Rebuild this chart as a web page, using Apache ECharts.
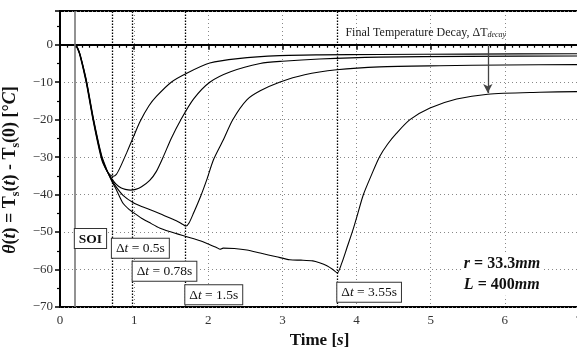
<!DOCTYPE html>
<html>
<head>
<meta charset="utf-8">
<script src="https://cdn.jsdelivr.net/npm/echarts@6/dist/echarts.min.js"></script>
<style>
  html, body { margin: 0; padding: 0; background: #fff; }
  #main { width: 577px; height: 353px; }
</style>
</head>
<body>
<div id="main"></div>
<script>
// time [s] and theta [°C], one pair of arrays per run
const t1 = [0, 0.2, 0.22, 0.26, 0.3, 0.36, 0.45, 0.56, 0.63, 0.68, 0.72, 0.76, 0.81, 0.9, 0.99, 1.08, 1.2, 1.3, 1.5, 1.71, 2.02, 2.4, 2.96, 3.5, 4.3, 5.5, 7]
const y1 = [0, 0, -0.4, -2.3, -5.4, -10.8, -20.6, -30.5, -33.6, -34.8, -35.1, -34.6, -32.8, -28.8, -24.6, -20.5, -16.3, -13.8, -10, -7.6, -4.9, -3.7, -2.9, -2.7, -2.6, -2.5, -2.4]

const t2 = [0, 0.2, 0.22, 0.26, 0.3, 0.36, 0.45, 0.56, 0.63, 0.7, 0.76, 0.82, 0.88, 0.95, 1.02, 1.1, 1.21, 1.3, 1.4, 1.5, 1.63, 1.8, 2.02, 2.3, 2.7, 3.0, 3.5, 4.3, 5.5, 7]
const y2 = [0, 0, -0.3, -2.1, -5.1, -10.4, -20.2, -30.1, -33.6, -35.8, -37.3, -38.2, -38.6, -38.8, -38.6, -37.9, -36.2, -33.8, -29.6, -25, -20, -14.5, -10, -7.2, -5, -4.4, -3.8, -3.3, -3.1, -3.0]

const t3 = [0, 0.2, 0.22, 0.26, 0.3, 0.36, 0.45, 0.56, 0.63, 0.7, 0.76, 0.85, 0.99, 1.1, 1.2, 1.35, 1.5, 1.6, 1.66, 1.7, 1.74, 1.8, 1.9, 1.98, 2.07, 2.2, 2.33, 2.52, 2.7, 2.96, 3.3, 3.73, 4.31, 5.12, 6, 7]
const y3 = [0, 0, -0.3, -2.0, -4.9, -10.1, -19.9, -29.8, -33.5, -36.2, -38, -40.2, -42.2, -43.2, -43.9, -45.1, -46.4, -47.3, -48, -48.4, -47.6, -45, -40.3, -36, -30.7, -25.5, -20, -14.7, -12.3, -10, -8, -6.7, -5.9, -5.6, -5.4, -5.3]

const t4 = [0, 0.2, 0.22, 0.26, 0.3, 0.36, 0.45, 0.56, 0.63, 0.7, 0.76, 0.85, 0.94, 0.99, 1.1, 1.2, 1.35, 1.5, 1.7, 1.9, 2.0, 2.11, 2.16, 2.2, 2.35, 2.52, 2.7, 2.92, 3.1, 3.25, 3.41, 3.5, 3.6, 3.68, 3.74, 3.8, 3.87, 3.95, 4.02, 4.09, 4.2, 4.31, 4.42, 4.54, 4.72, 4.99, 5.35, 5.77, 6.47, 7]
const y4 = [0, 0, -0.2, -1.9, -4.8, -9.9, -19.6, -29.5, -33.3, -36.5, -38.7, -42.3, -44.1, -44.8, -46.3, -47.4, -49, -50, -51.2, -52.4, -53.2, -54.1, -54.6, -54.3, -54.4, -54.8, -55.6, -56.6, -57.4, -57.5, -57.7, -58.2, -59, -60, -60.9, -58.3, -54.2, -49.5, -44.8, -40.1, -34.8, -29.9, -26.5, -23.6, -20, -16.9, -14.5, -13.2, -12.7, -12.5]

// SOI and the end of each exposure
const soiTime = 0.2
const stopTimes = [0.7, 0.98, 1.69, 3.74]

const boxLabels = [
  { text: '{b|SOI}', at: [0.2, -49.2] },
  { text: 'Δ{i|t} = 0.5s', at: [0.7, -51.8] },
  { text: 'Δ{i|t} = 0.78s', at: [0.98, -57.9] },
  { text: 'Δ{i|t} = 1.5s', at: [1.69, -64.2] },
  { text: 'Δ{i|t} = 3.55s', at: [3.74, -63.5] }
]

const serif = '"Liberation Serif", "DejaVu Serif", serif'
const zip = (t, y) => t.map((v, i) => [v, y[i]])

const chart = echarts.init(document.getElementById('main'))

chart.setOption({
  animation: false,
  grid: {
    left: 60, right: -2, top: 11, bottom: 46,
    outerBoundsMode: 'none', containLabel: false,
    show: true, borderColor: '#000', borderWidth: 2
  },
  xAxis: {
    type: 'value', min: 0, max: 7, interval: 1,
    name: 'Time [{bi|s}]', nameLocation: 'middle', nameGap: 25,
    nameTextStyle: {
      fontFamily: serif, fontSize: 17, fontWeight: 'bold', color: '#111',
      rich: { bi: { fontFamily: serif, fontSize: 17, fontWeight: 'bold', fontStyle: 'italic', color: '#111' } }
    },
    axisLine: { lineStyle: { color: '#000', width: 2 } },
    axisTick: { length: 5, lineStyle: { color: '#000', width: 1.5 } },
    minorTick: { show: true, splitNumber: 10, length: 3, lineStyle: { color: '#000', width: 1.2 } },
    axisLabel: { fontFamily: serif, fontSize: 13, color: '#333', margin: 7 },
    splitLine: { lineStyle: { color: '#888', type: [1, 3], width: 1 } }
  },
  yAxis: {
    type: 'value', min: -70, max: 9, interval: 10,
    name: '{bi|θ}({bi|t}) = T{sub|s}({bi|t}) - T{sub|s}(0) [°{bi|C}]',
    nameLocation: 'middle', nameGap: 31,
    nameTextStyle: {
      fontFamily: serif, fontSize: 18, fontWeight: 'bold', color: '#111', lineHeight: 22,
      padding: [0, 22, 0, 0],
      rich: {
        bi: { fontFamily: serif, fontSize: 18, fontWeight: 'bold', fontStyle: 'italic', color: '#111', lineHeight: 22 },
        sub: { fontFamily: serif, fontSize: 12, fontWeight: 'bold', color: '#111', lineHeight: 13, verticalAlign: 'bottom' }
      }
    },
    axisLine: { show: true, lineStyle: { color: '#000', width: 2 } },
    axisTick: { length: 5, lineStyle: { color: '#000', width: 1.5 } },
    minorTick: { show: true, splitNumber: 2, length: 3, lineStyle: { color: '#000', width: 1.2 } },
    axisLabel: {
      fontFamily: serif, fontSize: 13, color: '#333', margin: 7,
      formatter: v => (v % 10 === 0 ? String(v).replace('-', '−') : '')
    },
    splitLine: { lineStyle: { color: '#888', type: [1, 3], width: 1 } }
  },
  series: [
    {
      data: zip(t1, y1),
      markLine: {
        silent: true, symbol: 'none', label: { show: false },
        data: [
          { yAxis: 0, lineStyle: { color: '#000', type: [6, 4], width: 1.2 } },
          { xAxis: soiTime, lineStyle: { color: '#777', type: 'solid', width: 1.6 } },
          ...stopTimes.map(v => ({ xAxis: v, lineStyle: { color: '#000', type: [1.5, 1.5], width: 1.3 } }))
        ]
      }
    },
    { data: zip(t2, y2) },
    { data: zip(t3, y3) },
    {
      data: zip(t4, y4),
      markLine: {
        silent: true, symbol: ['none', 'arrow'], symbolSize: [7, 9], label: { show: false },
        lineStyle: { color: '#444', type: 'solid', width: 1.3 },
        data: [[{ coord: [5.77, 0] }, { coord: [5.77, -12.9] }]]
      }
    }
  ].map(s => ({
    ...s,
    type: 'line',
    showSymbol: false,
    smooth: 0.25,
    lineStyle: { color: '#000', width: 1.1 },
    z: 3
  }))
})

const px = p => chart.convertToPixel({ gridIndex: 0 }, p)

const graphics = boxLabels.map(b => {
  const [x, y] = px(b.at)
  return {
    type: 'text', x, y, z: 100,
    style: {
      text: b.text, fontFamily: serif, fontSize: 13.5, fill: '#111',
      backgroundColor: '#fff', borderColor: '#333', borderWidth: 1, padding: [3, 4, 2, 4],
      rich: {
        i: { fontFamily: serif, fontSize: 13.5, fontStyle: 'italic', fill: '#111' },
        b: { fontFamily: serif, fontSize: 13.5, fontWeight: 'bold', fill: '#111' }
      }
    }
  }
})

const [fx, fy] = px([3.85, 3.2])
graphics.push({
  type: 'text', x: fx, y: fy, z: 100,
  style: {
    text: 'Final Temperature Decay, ΔT{sub|decay}', fontFamily: serif, fontSize: 12, fill: '#222',
    verticalAlign: 'middle',
    rich: { sub: { fontFamily: serif, fontSize: 8, fontStyle: 'italic', fill: '#222', verticalAlign: 'bottom', lineHeight: 8 } }
  }
})

const [rx, ry] = px([5.42, -55.8])
graphics.push({
  type: 'text', x: rx, y: ry, z: 100,
  style: {
    text: '{bi|r} = 33.3{bi|mm}\n{bi|L} = 400{bi|mm}',
    fontFamily: serif, fontSize: 16, fontWeight: 'bold', fill: '#111', lineHeight: 21,
    backgroundColor: '#fff', padding: [0, 2],
    rich: { bi: { fontFamily: serif, fontSize: 16, fontWeight: 'bold', fontStyle: 'italic', fill: '#111', lineHeight: 21 } }
  }
})

chart.setOption({ graphic: graphics })
</script>
</body>
</html>
